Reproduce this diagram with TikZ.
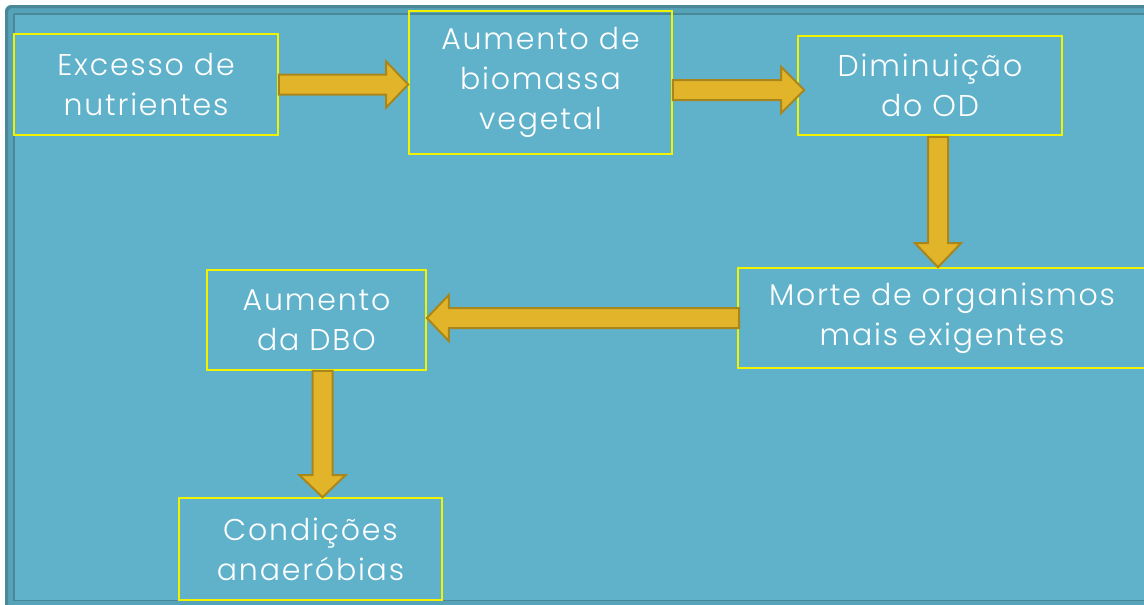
\documentclass[tikz,border=0pt]{standalone}
\usepackage{fontspec}
\setmainfont{Poppins}[UprightFont=* Light, LetterSpace=6]
\usetikzlibrary{calc}
\definecolor{bgblue}{HTML}{60B2CB}
\definecolor{frameteal}{HTML}{4A8797}
\definecolor{midteal}{HTML}{56A2B8}
\definecolor{arrfill}{HTML}{E2B42A}
\definecolor{arrline}{HTML}{A8861C}
\definecolor{boxline}{HTML}{F2F200}
\tikzset{
  stepbox/.style={draw=boxline, line width=1.6pt, rectangle, inner sep=0pt,
    text=white, align=center, font=\fontsize{30}{40}\selectfont},
  fatarr/.style={fill=arrfill, draw=arrline, line width=2pt, line join=miter},
}
\newcommand\fatarrow[3]{% start, end, head length
  \coordinate (hb) at ($(#2)!#3!(#1)$);
  \draw[fatarr] ($(#1)!10pt!90:(#2)$) -- ($(hb)!10pt!-90:(#1)$) -- ($(hb)!23pt!-90:(#1)$)
    -- (#2) -- ($(hb)!23pt!90:(#1)$) -- ($(hb)!10pt!90:(#1)$) -- ($(#1)!10pt!-90:(#2)$) -- cycle;
}
\begin{document}
\begin{tikzpicture}[x=1pt,y=-1pt]
\useasboundingbox (0,0) rectangle (1144,605);
\clip (0,0) rectangle (1144,605);
\fill[white] (0,0) rectangle (1144,605);
% frame
\fill[midteal, rounded corners=6pt] (5,5) rectangle (1180,640);
\draw[frameteal, line width=3pt, rounded corners=6pt] (6.5,6.5) rectangle (1180,640);
\fill[bgblue] (14,14) rectangle (1170,600);
\draw[frameteal, line width=1.2pt] (14,14) -- (1170,14);
\draw[frameteal, line width=1.2pt] (14,14) -- (14,600.5) -- (1170,600.5);
% boxes
\node[stepbox, minimum width=264pt, minimum height=101pt] (n1) at (146,84.5) {Excesso de\\nutrientes};
\node[stepbox, minimum width=263pt, minimum height=143pt] (n2) at (540.5,82.5) {Aumento de\\biomassa\\vegetal};
\node[stepbox, minimum width=264pt, minimum height=99pt] (n3) at (930,85.5) {Diminuição\\do OD};
\node[stepbox, minimum width=408pt, minimum height=100pt] (n4) at (942,318) {Morte de organismos\\mais exigentes};
\node[stepbox, minimum width=219pt, minimum height=100pt] (n5) at (316.5,320) {Aumento\\da DBO};
\node[stepbox, minimum width=263pt, minimum height=102pt] (n6) at (310.5,549) {Condições\\anaeróbias};
% arrows
\coordinate (a1s) at (n1.east);
\coordinate (a1e) at (n2.west |- n1.east);
\fatarrow{a1s}{a1e}{22pt}
\coordinate (a2s) at ([yshift=-7.5pt]n2.east);
\coordinate (a2e) at ([xshift=7pt]n3.west |- a2s);
\fatarrow{a2s}{a2e}{23pt}
\coordinate (a3s) at ([xshift=8pt,yshift=-1pt]n3.south);
\coordinate (a3e) at (a3s |- n4.north);
\fatarrow{a3s}{a3e}{24pt}
\coordinate (a4s) at ([xshift=2pt]n4.west);
\coordinate (a4e) at (n5.east |- a4s);
\fatarrow{a4s}{a4e}{22pt}
\coordinate (a5s) at ([xshift=6pt]n5.south);
\coordinate (a5e) at (a5s |- n6.north);
\fatarrow{a5s}{a5e}{22pt}
\end{tikzpicture}
\end{document}
